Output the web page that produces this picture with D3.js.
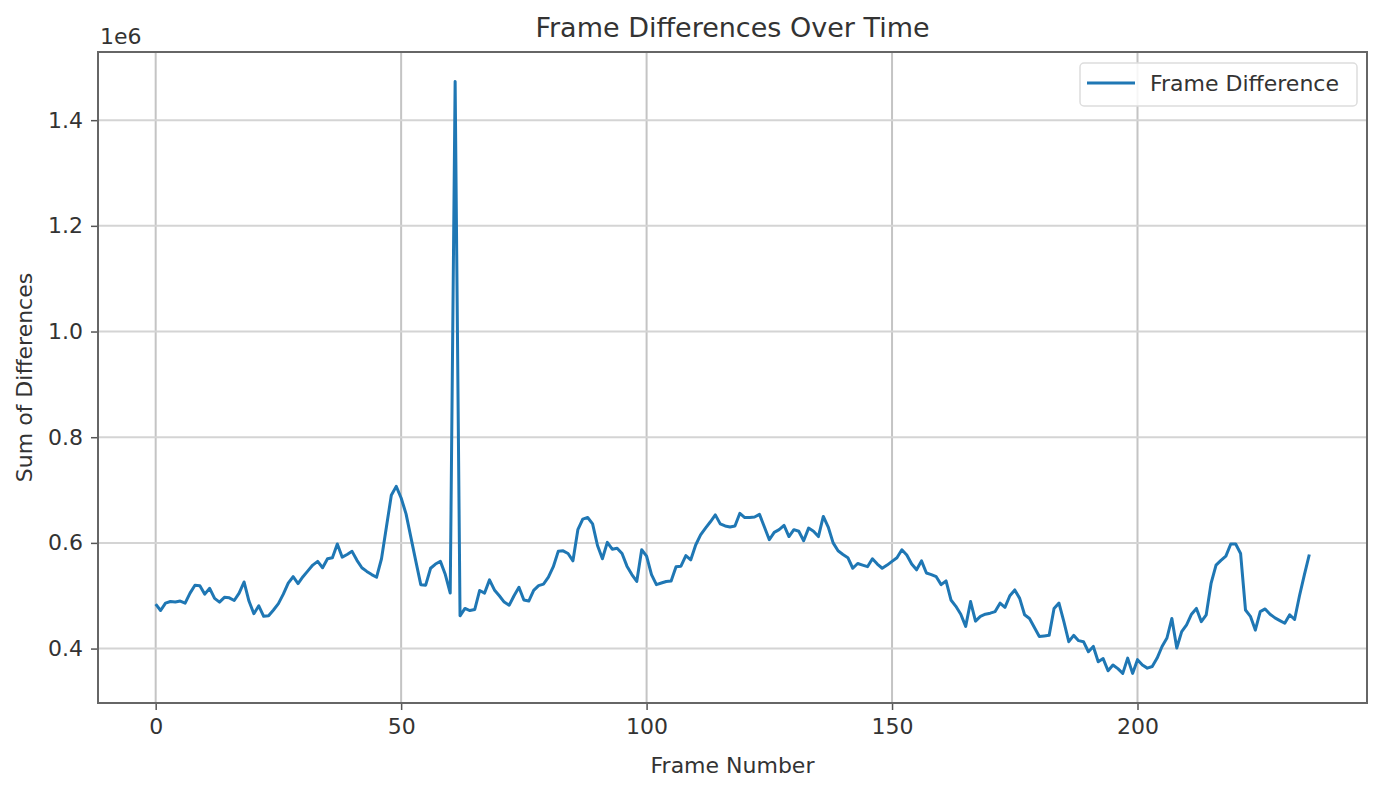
<!DOCTYPE html>
<html>
<head>
<meta charset="utf-8">
<script src="https://cdn.jsdelivr.net/npm/d3@7/dist/d3.min.js"></script>
<style>
  body { margin: 0; background: white; }
  text { font-family: "DejaVu Sans", sans-serif; fill: #333; }
</style>
</head>
<body>
<div id="chart"></div>
<script>
// frame difference per frame (in units of 1e6)
var diffs = [
  0.484, 0.472, 0.486, 0.489, 0.488, 0.490, 0.486, 0.505, 0.520, 0.519,
  0.503, 0.514, 0.495, 0.488, 0.497, 0.496, 0.491, 0.505, 0.526, 0.490,
  0.466, 0.481, 0.461, 0.462, 0.473, 0.485, 0.503, 0.524, 0.536, 0.523,
  0.536, 0.547, 0.558, 0.565, 0.553, 0.570, 0.572, 0.598, 0.573, 0.578,
  0.584, 0.567, 0.553, 0.546, 0.540, 0.535, 0.570, 0.630, 0.690, 0.707,
  0.685, 0.655, 0.610, 0.565, 0.521, 0.520, 0.552, 0.560, 0.565, 0.540,
  0.505, 1.473, 0.462, 0.476, 0.472, 0.474, 0.510, 0.505, 0.530, 0.511,
  0.500, 0.488, 0.482, 0.500, 0.516, 0.492, 0.490, 0.510, 0.519, 0.522,
  0.535, 0.555, 0.584, 0.585, 0.580, 0.566, 0.625, 0.645, 0.648, 0.636,
  0.595, 0.570, 0.601, 0.588, 0.590, 0.580, 0.556, 0.540, 0.527, 0.587,
  0.575, 0.540, 0.521, 0.524, 0.527, 0.528, 0.555, 0.556, 0.576, 0.568,
  0.596, 0.615, 0.628, 0.640, 0.653, 0.636, 0.632, 0.630, 0.632, 0.656,
  0.648, 0.648, 0.649, 0.654, 0.630, 0.606, 0.620, 0.625, 0.633, 0.612,
  0.625, 0.622, 0.604, 0.628, 0.622, 0.612, 0.650, 0.630, 0.600, 0.585,
  0.578, 0.572, 0.552, 0.561, 0.558, 0.555, 0.570, 0.560, 0.552, 0.558,
  0.565, 0.572, 0.587, 0.577, 0.560, 0.549, 0.566, 0.543, 0.540, 0.536,
  0.521, 0.528, 0.492, 0.480, 0.465, 0.442, 0.489, 0.452, 0.461, 0.465,
  0.467, 0.470, 0.486, 0.478, 0.500, 0.511, 0.495, 0.464, 0.457, 0.440,
  0.423, 0.424, 0.425, 0.476, 0.486, 0.451, 0.413, 0.425, 0.415, 0.413,
  0.394, 0.404, 0.375, 0.381, 0.358, 0.369, 0.362, 0.353, 0.382, 0.353,
  0.379, 0.369, 0.363, 0.366, 0.382, 0.404, 0.420, 0.457, 0.401, 0.432,
  0.445, 0.465, 0.476, 0.451, 0.464, 0.524, 0.558, 0.567, 0.575, 0.598,
  0.598, 0.580, 0.473, 0.461, 0.435, 0.470, 0.475, 0.465, 0.458, 0.453,
  0.448, 0.464, 0.455, 0.500, 0.540, 0.578
];
var xTicks = [0, 50, 100, 150, 200];
var yTicks = [0.4, 0.6, 0.8, 1.0, 1.2, 1.4];

var width = 1386, height = 786;
var margin = {top: 52, right: 19, bottom: 83, left: 98};

var svg = d3.select("#chart")
  .append("svg")
  .attr("width", width)
  .attr("height", height);

// matplotlib style 5% padding around the data
var n = diffs.length;
var xPad = (n - 1) * 0.05;
var yMin = d3.min(diffs), yMax = d3.max(diffs);
var yPad = (yMax - yMin) * 0.05;

var x = d3.scaleLinear()
  .domain([-xPad, n - 1 + xPad])
  .range([margin.left, width - margin.right]);

var y = d3.scaleLinear()
  .domain([yMin - yPad, yMax + yPad])
  .range([height - margin.bottom, margin.top]);

var plotW = width - margin.left - margin.right;
var plotH = height - margin.top - margin.bottom;

// grid
svg.append("g")
  .selectAll("line.vgrid")
  .data(xTicks)
  .enter()
  .append("line")
  .attr("x1", function(d) { return x(d); })
  .attr("x2", function(d) { return x(d); })
  .attr("y1", margin.top)
  .attr("y2", margin.top + plotH)
  .attr("stroke", "#c4c4c4")
  .attr("stroke-width", 2);

svg.append("g")
  .selectAll("line.hgrid")
  .data(yTicks)
  .enter()
  .append("line")
  .attr("x1", margin.left)
  .attr("x2", margin.left + plotW)
  .attr("y1", function(d) { return y(d); })
  .attr("y2", function(d) { return y(d); })
  .attr("stroke", "#d4d4d4")
  .attr("stroke-width", 2);

// the line
var line = d3.line()
  .x(function(d, i) { return x(i); })
  .y(function(d) { return y(d); });

svg.append("path")
  .datum(diffs)
  .attr("d", line)
  .attr("fill", "none")
  .attr("stroke", "#1f77b4")
  .attr("stroke-width", 3)
  .attr("stroke-linejoin", "round");

// axes
var xAxis = svg.append("g")
  .attr("transform", "translate(0," + (margin.top + plotH) + ")")
  .call(d3.axisBottom(x).tickValues(xTicks).tickSize(7).tickPadding(8).tickFormat(d3.format("d")));

var yAxis = svg.append("g")
  .attr("transform", "translate(" + margin.left + ",0)")
  .call(d3.axisLeft(y).tickValues(yTicks).tickSize(7).tickPadding(8).tickFormat(d3.format(".1f")));

[xAxis, yAxis].forEach(function(a) {
  a.select(".domain").remove();
  a.selectAll(".tick line").attr("stroke", "#555").attr("stroke-width", 1.5);
  a.selectAll(".tick text")
    .style("font-family", "DejaVu Sans, sans-serif")
    .style("font-size", "22px")
    .attr("fill", "#444");
});

// frame around the plot
svg.append("rect")
  .attr("x", margin.left)
  .attr("y", margin.top)
  .attr("width", plotW)
  .attr("height", plotH)
  .attr("fill", "none")
  .attr("stroke", "#666")
  .attr("stroke-width", 2);

// labels
svg.append("text")
  .attr("x", margin.left + plotW / 2)
  .attr("y", 37)
  .attr("text-anchor", "middle")
  .style("font-size", "27px")
  .text("Frame Differences Over Time");

svg.append("text")
  .attr("x", margin.left + plotW / 2)
  .attr("y", 773)
  .attr("text-anchor", "middle")
  .style("font-size", "22px")
  .attr("fill", "#444")
  .text("Frame Number");

svg.append("text")
  .attr("transform", "translate(32," + (margin.top + plotH / 2) + ") rotate(-90)")
  .attr("text-anchor", "middle")
  .style("font-size", "22px")
  .attr("fill", "#444")
  .text("Sum of Differences");

svg.append("text")
  .attr("x", margin.left + 2)
  .attr("y", 44)
  .style("font-size", "22px")
  .attr("fill", "#444")
  .text("1e6");

// legend
var legend = svg.append("g")
  .attr("transform", "translate(1080,63)");

legend.append("rect")
  .attr("width", 277)
  .attr("height", 43)
  .attr("rx", 4)
  .attr("fill", "white")
  .attr("fill-opacity", 0.85)
  .attr("stroke", "#ddd")
  .attr("stroke-width", 1.5);

legend.append("line")
  .attr("x1", 7)
  .attr("x2", 55)
  .attr("y1", 20)
  .attr("y2", 20)
  .attr("stroke", "#1f77b4")
  .attr("stroke-width", 3);

legend.append("text")
  .attr("x", 70)
  .attr("y", 28)
  .style("font-size", "22px")
  .attr("fill", "#444")
  .text("Frame Difference");
</script>
</body>
</html>
